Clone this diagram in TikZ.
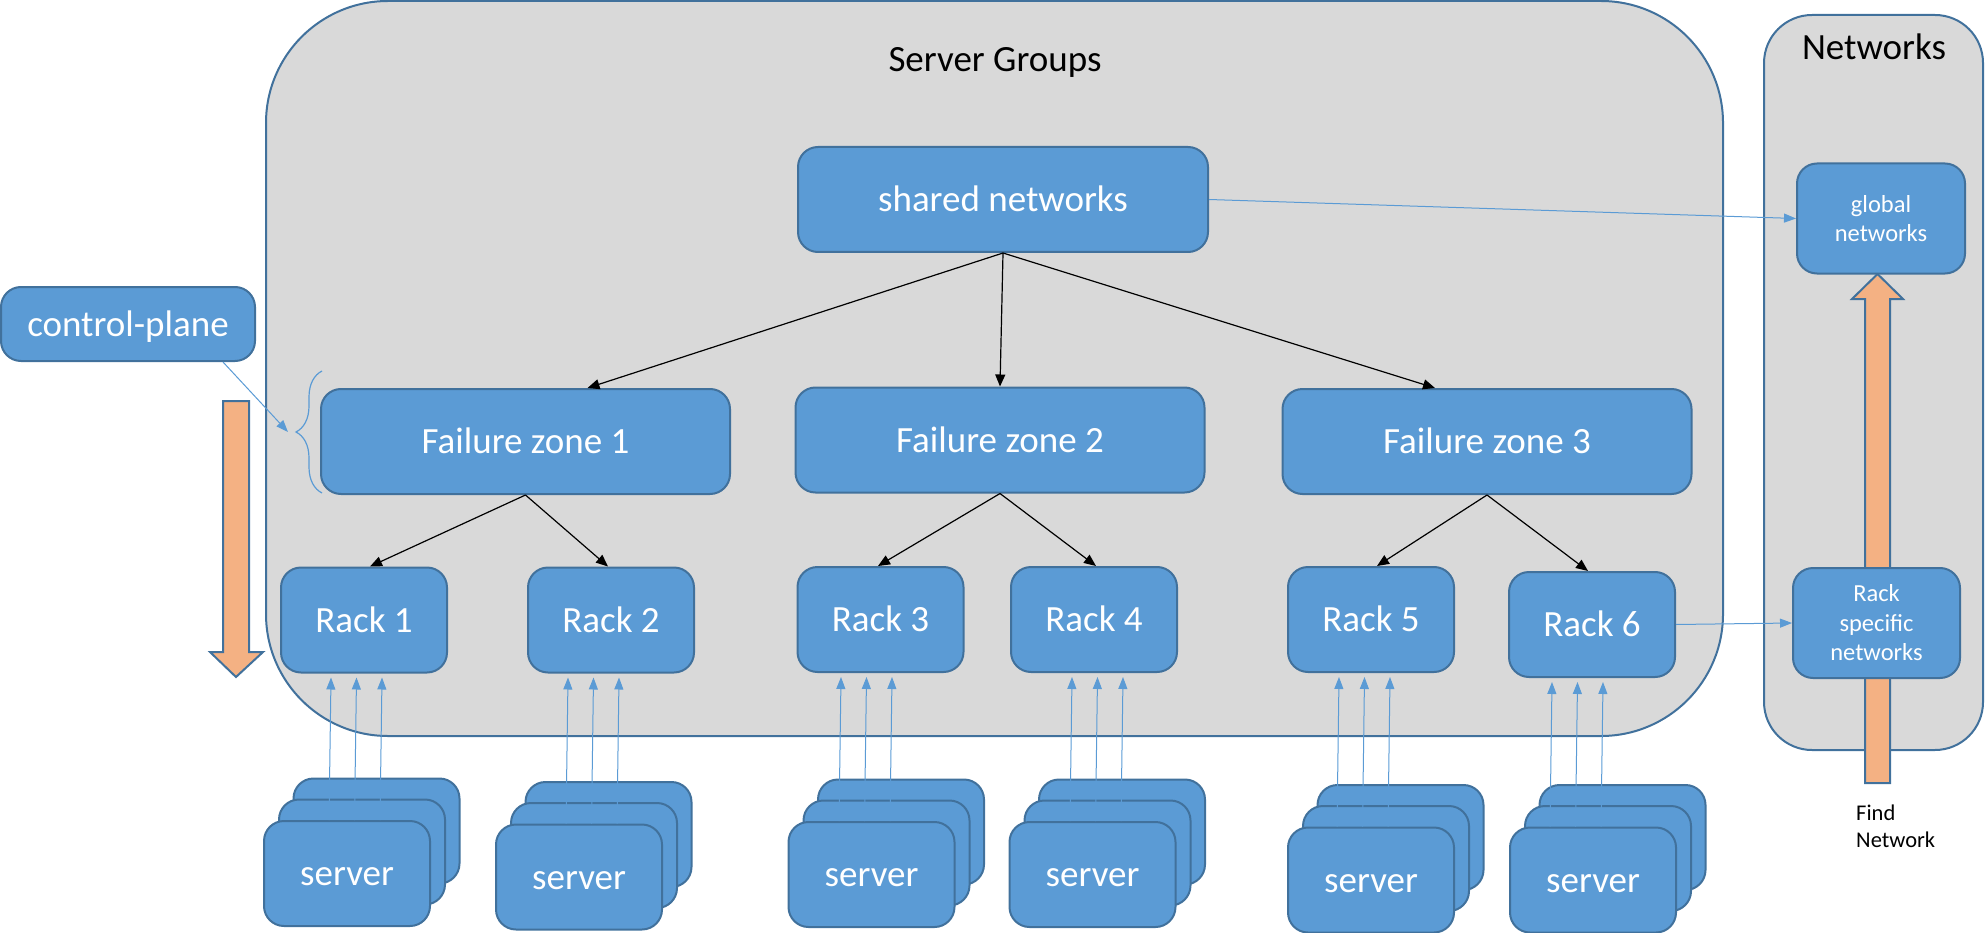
\documentclass[tikz,border=0pt]{standalone}
\usepackage{fontspec}
\setmainfont{Carlito}
\usetikzlibrary{arrows.meta,calc,decorations.pathreplacing}
\definecolor{boxblue}{HTML}{5B9BD5}
\definecolor{edgeblue}{HTML}{41719C}
\definecolor{panelgrey}{HTML}{D9D9D9}
\definecolor{peach}{HTML}{F4B183}

\begin{document}
\begin{tikzpicture}[x=1pt,y=-1pt,
  box/.style={draw=edgeblue,line width=2pt,fill=boxblue,rounded corners=20pt,text=white,inner sep=0pt},
  big/.style={box,font=\fontsize{37}{44}\selectfont,text height=24pt,text depth=0pt},
  zone/.style={big,minimum width=409pt,minimum height=105pt},
  rack/.style={big,minimum width=166pt,minimum height=105pt},
  srv/.style={rack},
  net/.style={box,align=center,font=\fontsize{24.5}{29.5}\selectfont,minimum width=168pt,minimum height=110pt},
  panel/.style={draw=edgeblue,line width=2pt,fill=panelgrey},
  title/.style={font=\fontsize{37}{44}\selectfont,anchor=base},
  link/.style={-{Triangle[length=12pt,width=10pt]},line width=1.2pt},
  feed/.style={-{Triangle[length=12pt,width=9pt]},boxblue,line width=1pt},
  bigarrow/.style={draw=edgeblue,line width=2pt,fill=peach}]

\useasboundingbox (0,0) rectangle (1985,933);
\draw[panel,rounded corners=122pt] (266,1) rectangle (1723,736);
\draw[panel,rounded corners=48pt] (1764,15) rectangle (1983,750);
\node[title] (sgtitle) at (995,72) {Server Groups};
\node[title] (nettitle) at (1874,60) {Networks};

\draw[bigarrow] (223,401) -- (249,401) -- (249,652) -- (263,652) -- (236,677) -- (210,652) -- (223,652) -- cycle;
\draw[bigarrow] (1865,783) -- (1890,783) -- (1890,299) -- (1903,299) -- (1877.5,274) -- (1852,299) -- (1865,299) -- cycle;

\node[big,minimum width=254pt,minimum height=74pt] (cp) at (128,324) {control-plane};
\node[zone,minimum width=410pt] (shared) at (1003,199.5) {shared networks};
\node[zone] (fz1) at (525.5,441.5) {Failure zone 1};
\node[zone] (fz2) at (1000,440) {Failure zone 2};
\node[zone] (fz3) at (1487,441.5) {Failure zone 3};
\node[rack] (rack1) at (364,620) {Rack 1};
\node[rack] (rack2) at (611,620) {Rack 2};
\node[rack] (rack3) at (880.5,619.5) {Rack 3};
\node[rack] (rack4) at (1094,619.5) {Rack 4};
\node[rack] (rack5) at (1371,619.5) {Rack 5};
\node[rack] (rack6) at (1592,624.5) {Rack 6};
\node[net] (global) at (1881,218.5) {global\\networks};
\node[net,minimum width=167pt] (racknet) at (1876.5,623) {Rack\\specific\\networks};
\node[font=\fontsize{22.5}{27}\selectfont,align=left,anchor=north west,inner sep=0pt] (find) at (1856,805) {Find\\Network};

\draw[boxblue,line width=1.2pt,decorate,decoration={brace,amplitude=26pt}] (322,493) -- (322,371);
\coordinate (bracetip) at (288,432);
\draw[feed] ([xshift=-33pt]cp.south east) -- (bracetip);

\draw[link] (shared.south) -- ([xshift=62pt]fz1.north);
\draw[link] (shared.south) -- (fz2.north);
\draw[link] (shared.south) -- ([xshift=-52pt]fz3.north);
\foreach \z/\r/\s in {fz1/rack1/6,fz1/rack2/-3,fz2/rack3/-2.5,fz2/rack4/2,fz3/rack5/6,fz3/rack6/-4}
  \draw[link] (\z.south) -- ([xshift=\s pt]\r.north);
\draw[feed] (shared.east) -- (global.west);
\draw[feed] (rack6.east) -- (racknet.west);

\foreach \x/\y/\r/\d [count=\i] in {347/873.5/rack1/-18,579/877/rack2/-13,871.5/874.5/rack3/-32.5,1092.5/874.5/rack4/-22.5,1371/880/rack5/-34,1593/880/rack6/-43}{
  \node[srv] (back\i) at (\x+29.5,\y-42.5) {};
  \node[srv] (mid\i) at (\x+15,\y-21.5) {};
  \node[srv] (srv\i) at (\x,\y) {server};
  \foreach \k in {0,25.5,51}
    \draw[feed] ($(srv\i.north)+(\d+\k,0)$) -- ($(srv\i.north |- \r.south)+(\d+\k+2,4)$);
}
\end{tikzpicture}
\end{document}
